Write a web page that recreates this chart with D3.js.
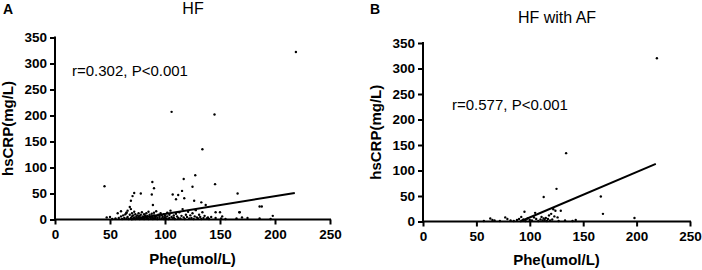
<!DOCTYPE html>
<html>
<head>
<meta charset="utf-8">
<script src="https://cdn.jsdelivr.net/npm/d3@7"></script>
<style>
html,body{margin:0;padding:0;background:#fff;}
svg{display:block;font-family:"Liberation Sans",Arial,sans-serif;}
</style>
</head>
<body>
<svg id="chart" width="702" height="270"></svg>
<script>
// ---- Data ----
const xTicks = [0, 50, 100, 150, 200, 250];
const yTicks = [0, 50, 100, 150, 200, 250, 300, 350];

// Panel A: HF  (Phe umol/L, hsCRP mg/L)
const hfPhe = [219,106,145,134,45,88.5,90,117,127.5,125,115.5,145.5,112,107,117.5,110,166,72,70.5,69,78,88,89,126.5,133,137,186,167.5,146,69,65,
47,50,52,55,57,58,60,60,61,62,63,64,65,65,66,66,67,68,68,69,70,70,71,71,72,72,73,73,74,74,75,75,76,76,77,77,78,78,79,79,80,80,81,81,82,82,83,83,84,84,85,85,86,86,87,87,88,88,89,89,90,90,91,91,92,92,93,93,94,95,95,96,97,97,98,99,99,100,100,101,102,102,103,104,104,105,106,107,108,108,109,110,111,112,113,114,115,116,117,118,119,120,121,122,123,124,125,126,127,128,129,130,131,132,133,134,135,136,138,139,140,142,146,150,151,152,155,165,168,170,175,186,188,198,196];
const hfCrp = [322,207,202,135,64,72,60,78,85,63,55,68,47,48,41,39,50,51,45,36,50,48,28,36,33,28,25,14,14,20,13,
4,5,1,2,12,3,16,6,1,8,3,10,13,2,17,5,1,9,24,3,6,12,2,8,4,15,1,10,6,3,8,2,5,12,1,7,4,9,2,14,6,3,1,10,5,8,2,12,7,3,1,15,5,9,2,4,11,6,1,3,8,13,2,5,7,16,1,4,9,3,6,12,2,8,5,1,10,4,7,2,13,6,1,9,3,17,5,2,8,4,1,11,6,3,14,2,7,20,4,1,9,5,15,2,8,3,12,1,6,18,4,2,9,5,1,14,3,7,2,4,1,5,3,14,2,6,1,2,14,4,3,2,25,7,1];
const hfFit = { phe: [69, 218], crp: [0, 51] };

// Panel B: HF with AF
const afPhe = [219,134,125,113,166.5,168.5,198,95,105,124,129,120,126,113,122,118,57,63,65,67,72,77,79,82,85,88,90,92,93,94,96,98,100,102,104,106,108,110,111,112,114,115,116,117,119,121,123,127,133,140,143];
const afCrp = [320,134,64,48,49,15,7,19,17,21,21,15,8,6,24,12,1,6,3,2,1,8,5,2,1,3,5,9,2,4,1,6,3,2,8,5,1,4,9,2,3,7,1,5,2,4,10,1,2,1,3];
const afFit = { phe: [91, 218], crp: [0, 113] };

const svg = d3.select("#chart");

function panel(cfg) {
  const x = d3.scaleLinear().domain([0, 250]).range([cfg.x0, cfg.x1]);
  const y = d3.scaleLinear().domain([0, 350]).range([cfg.y0, cfg.y1]);
  const g = svg.append("g");

  // points
  g.selectAll("circle").data(cfg.phe.map((v, i) => [v, cfg.crp[i]]))
    .enter().append("circle")
    .attr("cx", d => x(d[0])).attr("cy", d => y(d[1]))
    .attr("r", 1.2).attr("fill", "#000");

  // fit line
  g.append("line")
    .attr("x1", x(cfg.fit.phe[0])).attr("y1", y(cfg.fit.crp[0]))
    .attr("x2", x(cfg.fit.phe[1])).attr("y2", y(cfg.fit.crp[1]))
    .attr("stroke", "#000").attr("stroke-width", 2);

  // axes
  const xa = g.append("g").attr("transform", `translate(0,${cfg.y0})`)
    .call(d3.axisBottom(x).tickValues(xTicks).tickSize(5).tickPadding(5).tickSizeOuter(0));
  const ya = g.append("g").attr("transform", `translate(${cfg.x0},0)`)
    .call(d3.axisLeft(y).tickValues(yTicks).tickSize(5).tickPadding(3).tickSizeOuter(0));
  [xa, ya].forEach(a => {
    a.select(".domain").attr("stroke", "#000").attr("stroke-width", 2);
    a.selectAll(".tick line").attr("stroke", "#000").attr("stroke-width", 2);
    a.selectAll(".tick text").attr("fill", "#000")
      .style("font-size", "13.5px").style("font-weight", "bold")
      .style("font-family", '"Liberation Sans",Arial,sans-serif');
  });
  xa.select(".domain").attr("d", `M${cfg.x0 - 1},0H${cfg.x1 + 1}`);
  ya.select(".domain").attr("d", `M0,${cfg.y0 + 1}V${cfg.y1 - 1}`);

  // texts
  g.append("text").attr("x", cfg.letterX).attr("y", 13.5)
    .style("font-size", "14px").style("font-weight", "bold").text(cfg.letter);
  g.append("text").attr("x", cfg.titleX).attr("y", cfg.titleY).attr("text-anchor", "middle")
    .style("font-size", "16px").text(cfg.title);
  g.append("text").attr("x", cfg.annX).attr("y", cfg.annY)
    .style("font-size", "15px").text(cfg.ann);
  g.append("text").attr("x", (cfg.x0 + cfg.x1) / 2).attr("y", cfg.xlabY).attr("text-anchor", "middle")
    .style("font-size", "15px").style("font-weight", "bold").text("Phe(umol/L)");
  g.append("text").attr("transform", `translate(${cfg.ylabX},${(cfg.y0 + cfg.y1) / 2}) rotate(-90)`)
    .attr("text-anchor", "middle")
    .style("font-size", "15px").style("font-weight", "bold").text("hsCRP(mg/L)");
}

panel({ x0: 55, x1: 330, y0: 219.5, y1: 37.5, phe: hfPhe, crp: hfCrp, fit: hfFit,
  letter: "A", letterX: 3, title: "HF", titleX: 193, titleY: 14,
  ann: "r=0.302, P<0.001", annX: 72, annY: 75.5, xlabY: 263.5, ylabX: 12.5 });

panel({ x0: 423, x1: 690, y0: 221.5, y1: 43, phe: afPhe, crp: afCrp, fit: afFit,
  letter: "B", letterX: 370, title: "HF with AF", titleX: 557, titleY: 22.5,
  ann: "r=0.577, P<0.001", annX: 452, annY: 110, xlabY: 264.5, ylabX: 381 });
</script>
</body>
</html>
